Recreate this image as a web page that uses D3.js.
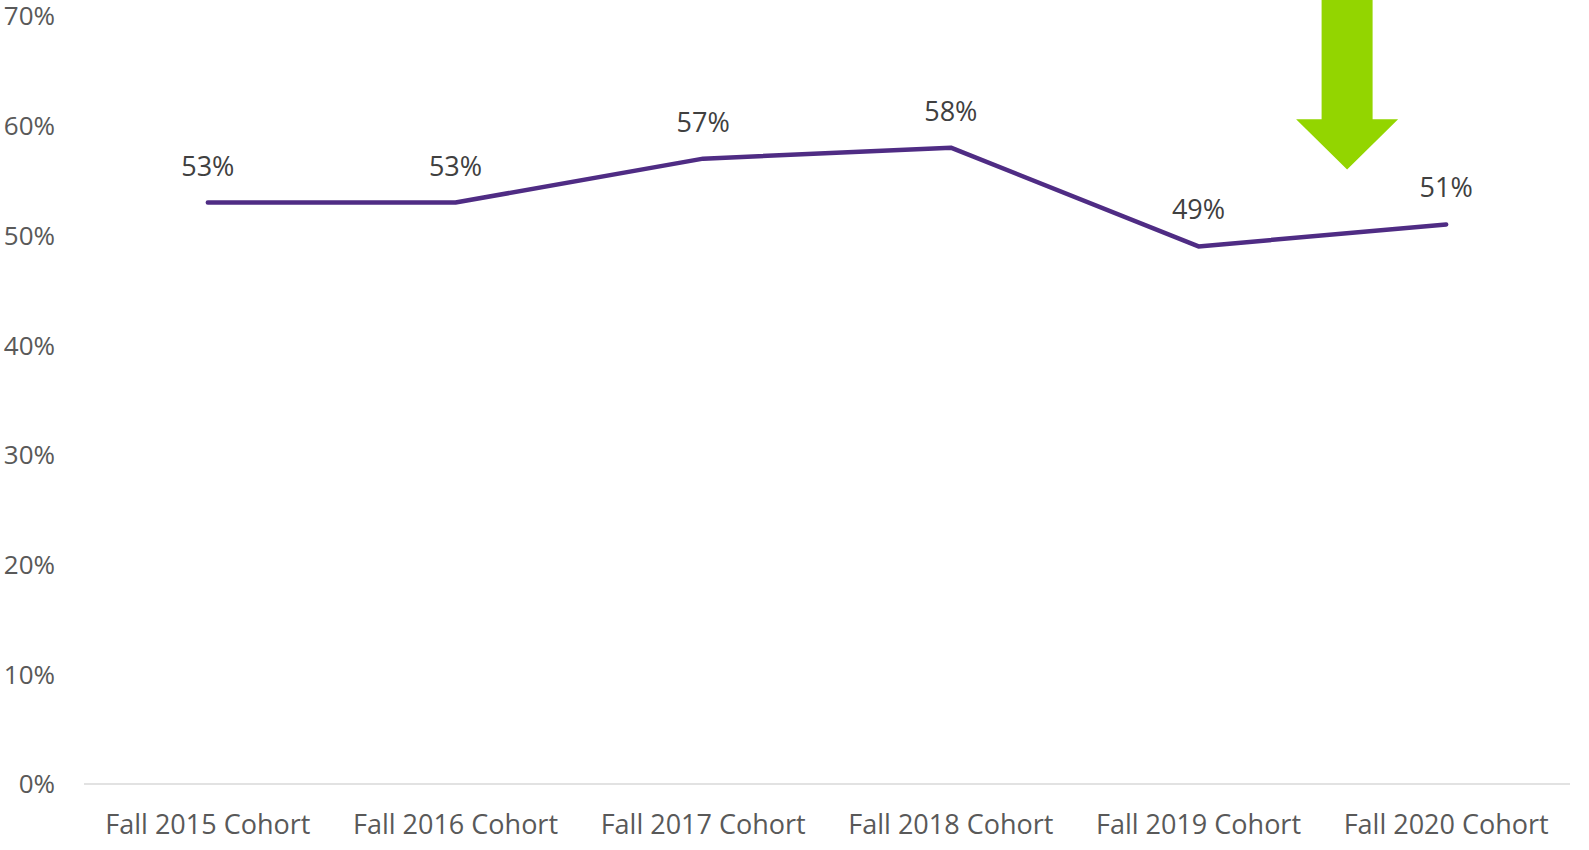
<!DOCTYPE html>
<html>
<head>
<meta charset="utf-8">
<script src="https://cdn.jsdelivr.net/npm/d3@7"></script>
<style>
  html, body { margin: 0; padding: 0; background: #fff; }
  svg { display: block; font-family: "Open Sans", "Noto Sans", sans-serif; }
</style>
</head>
<body>
<div id="chart"></div>
<script>
// cohort rates
const cohorts = ["Fall 2015 Cohort", "Fall 2016 Cohort", "Fall 2017 Cohort", "Fall 2018 Cohort", "Fall 2019 Cohort", "Fall 2020 Cohort"];
const rates = [0.53, 0.53, 0.57, 0.58, 0.49, 0.51];
const yTicks = [0, 0.1, 0.2, 0.3, 0.4, 0.5, 0.6, 0.7];

const width = 1589;
const height = 850;
const lineColor = "#4f2c84";
const arrowColor = "#93d500";

const svg = d3.select("#chart").append("svg")
    .attr("width", width)
    .attr("height", height);

const x = d3.scaleBand()
    .domain(cohorts)
    .range([84, 1570])
    .padding(0);

const y = d3.scaleLinear()
    .domain([0, 0.7])
    .range([784, 16]);

const cx = d => x(d) + x.bandwidth() / 2;

// y tick labels
svg.append("g")
    .selectAll("text")
    .data(yTicks)
    .join("text")
    .attr("x", 55)
    .attr("y", d => y(d))
    .attr("dy", "0.36em")
    .attr("text-anchor", "end")
    .attr("fill", "#595959")
    .attr("font-size", 26)
    .text(d3.format(".0%"));

// baseline
svg.append("line")
    .attr("x1", x.range()[0])
    .attr("x2", x.range()[1])
    .attr("y1", y(0))
    .attr("y2", y(0))
    .attr("stroke", "#d9d9d9")
    .attr("stroke-width", 1.5);

// category labels
svg.append("g")
    .selectAll("text")
    .data(cohorts)
    .join("text")
    .attr("x", d => cx(d))
    .attr("y", 834)
    .attr("text-anchor", "middle")
    .attr("fill", "#595959")
    .attr("font-size", 27)
    .text(d => d);

const points = cohorts.map((c, i) => ({ cohort: c, value: rates[i] }));

const line = d3.line()
    .x(d => cx(d.cohort))
    .y(d => y(d.value));

svg.append("path")
    .datum(points)
    .attr("fill", "none")
    .attr("stroke", lineColor)
    .attr("stroke-width", 4.5)
    .attr("stroke-linecap", "round")
    .attr("stroke-linejoin", "round")
    .attr("d", line);

// data labels
svg.append("g")
    .selectAll("text")
    .data(points)
    .join("text")
    .attr("x", d => cx(d.cohort))
    .attr("y", d => y(d.value) - 27)
    .attr("text-anchor", "middle")
    .attr("fill", "#404040")
    .attr("font-size", 27)
    .text(d => d3.format(".0%")(d.value));

// green arrow pointing down, between the last two cohorts
const ax = cx(cohorts[5]) - 0.4 * x.step();
const tipY = y(0.56);
const headY = y(0.606);
const arrow = d3.path();
arrow.moveTo(ax - 25.5, 0);
arrow.lineTo(ax + 25.5, 0);
arrow.lineTo(ax + 25.5, headY);
arrow.lineTo(ax + 51, headY);
arrow.lineTo(ax, tipY);
arrow.lineTo(ax - 51, headY);
arrow.lineTo(ax - 25.5, headY);
arrow.closePath();

svg.append("path")
    .attr("d", arrow.toString())
    .attr("fill", arrowColor);
</script>
</body>
</html>
